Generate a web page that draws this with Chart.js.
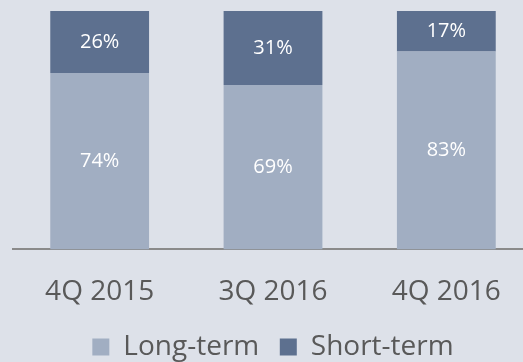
<!DOCTYPE html>
<html>
<head>
<meta charset="utf-8">
<script src="https://cdn.jsdelivr.net/npm/chart.js@4.4.1/dist/chart.umd.min.js"></script>
<style>
  html, body { margin: 0; padding: 0; background: #dde1e9; overflow: hidden; }
  #wrap { position: relative; width: 546px; height: 362px; }
</style>
</head>
<body>
<div id="wrap"><canvas id="c" width="546" height="362"></canvas></div>
<script>
// Funding mix by quarter (percent of total)
const quarters = ['4Q 2015', '3Q 2016', '4Q 2016'];
const longTerm = [74, 69, 83];
const shortTerm = [26, 31, 17];

const LIGHT = '#a1aec2';
const DARK = '#5d708f';
const TEXT = '#595959';

// Writes each segment's value in the middle of its bar piece
const segmentLabels = {
  id: 'segmentLabels',
  afterDatasetsDraw(chart) {
    const ctx = chart.ctx;
    ctx.save();
    ctx.fillStyle = '#ffffff';
    ctx.font = '20px "Open Sans"';
    ctx.textAlign = 'center';
    ctx.textBaseline = 'middle';
    chart.data.datasets.forEach((ds, i) => {
      const meta = chart.getDatasetMeta(i);
      meta.data.forEach((bar, j) => {
        const y = (bar.y + bar.base) / 2;
        ctx.fillText(ds.data[j] + '%', bar.x, y);
      });
    });
    ctx.restore();
  }
};

new Chart(document.getElementById('c'), {
  type: 'bar',
  data: {
    labels: quarters,
    datasets: [
      { label: 'Long-term', data: longTerm, backgroundColor: LIGHT },
      { label: 'Short-term', data: shortTerm, backgroundColor: DARK }
    ]
  },
  options: {
    responsive: false,
    animation: false,
    layout: { padding: { left: 13, right: 13, top: 11, bottom: -9 } },
    datasets: { bar: { barPercentage: 0.57, categoryPercentage: 1.0 } },
    plugins: {
      legend: {
        position: 'bottom',
        labels: {
          color: TEXT,
          font: { family: '"Open Sans"', size: 28 },
          boxWidth: 17,
          boxHeight: 17,
          padding: 6,
          // a little extra room between the two entries
          generateLabels(chart) {
            const items = Chart.defaults.plugins.legend.labels.generateLabels(chart);
            items.forEach((it, i) => {
              it.lineWidth = 0;
              if (i < items.length - 1) it.text = it.text + '  ';
            });
            return items;
          }
        }
      },
      tooltip: { enabled: false }
    },
    scales: {
      x: {
        stacked: true,
        grid: { display: false },
        border: { display: true, color: '#8a8a8a', width: 2 },
        ticks: {
          color: TEXT,
          font: { family: '"Open Sans"', size: 28 },
          padding: 18
        }
      },
      y: {
        stacked: true,
        display: false,
        min: 0,
        max: 100
      }
    }
  },
  plugins: [segmentLabels]
});
</script>
</body>
</html>
